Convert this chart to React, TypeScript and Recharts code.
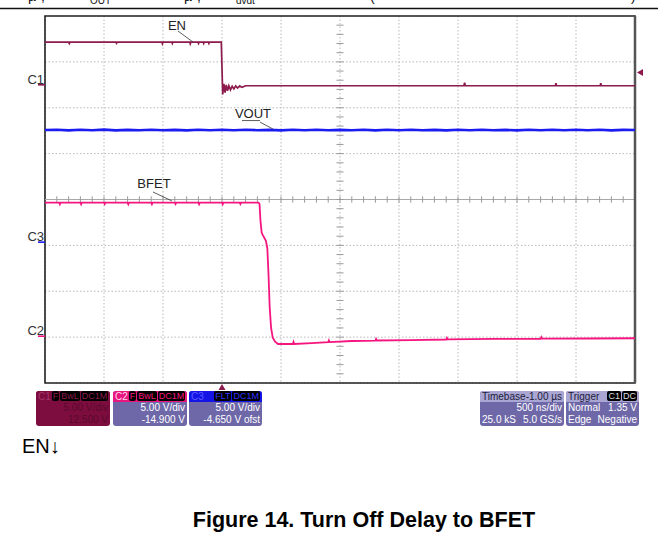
import React from "react";
import { CartesianGrid, Line, LineChart, ReferenceArea, ReferenceLine, XAxis, YAxis } from "recharts";

// time axis in ns: 500 ns/div, 10 divisions, trigger 3 divisions from the left
const timeTicks = [-1500, -1000, -500, 0, 500, 1000, 1500, 2000, 2500, 3000, 3500];
const divTicks = [-4, -3, -2, -1, 0, 1, 2, 3, 4];

// channel settings from the scope panels (V/div, position)
const c1Scale = { vdiv: 5, pos: 12.5 };
const c2Scale = { vdiv: 5, pos: -14.9 };
const c3Scale = { vdiv: 5, pos: -4.65 };
const trigLevel = 1.35;

// C1 EN (V)
const enTrace = [
  { t: -1500, v: 4.66 }, { t: -1300, v: 4.66 }, { t: -1294, v: 4.5 }, { t: -1288, v: 4.66 },
  { t: -900, v: 4.66 }, { t: -894, v: 4.52 }, { t: -888, v: 4.66 }, { t: -510, v: 4.66 },
  { t: -505, v: 4.48 }, { t: -500, v: 4.66 }, { t: -426, v: 4.66 }, { t: -421, v: 4.5 },
  { t: -416, v: 4.66 }, { t: -274, v: 4.66 }, { t: -269, v: 4.46 }, { t: -263, v: 4.66 },
  { t: -204, v: 4.66 }, { t: -199, v: 4.5 }, { t: -194, v: 4.66 }, { t: -160, v: 4.66 },
  { t: -155, v: 4.5 }, { t: -150, v: 4.66 }, { t: -116, v: 4.66 }, { t: -111, v: 4.5 },
  { t: -106, v: 4.66 }, { t: -6, v: 4.66 }, { t: 6, v: -1.05 }, { t: 16, v: 0.1 },
  { t: 26, v: -0.85 }, { t: 36, v: 0.0 }, { t: 47, v: -0.65 }, { t: 58, v: -0.1 },
  { t: 72, v: -0.55 }, { t: 86, v: -0.15 }, { t: 101, v: -0.45 }, { t: 116, v: -0.12 },
  { t: 132, v: -0.35 }, { t: 150, v: -0.12 }, { t: 170, v: -0.28 }, { t: 200, v: -0.1 },
  { t: 2050, v: -0.1 }, { t: 2056, v: 0.22 }, { t: 2062, v: -0.1 }, { t: 2825, v: -0.1 },
  { t: 2830, v: 0.18 }, { t: 2835, v: -0.1 }, { t: 3205, v: -0.1 }, { t: 3210, v: 0.18 },
  { t: 3215, v: -0.1 }, { t: 3500, v: -0.1 },
];

// C3 VOUT (V)
const voutTrace = [
  { t: -1500, v: 12.22 }, { t: -1400, v: 12.26 }, { t: -1300, v: 12.18 }, { t: -1200, v: 12.25 },
  { t: -1100, v: 12.2 }, { t: -1000, v: 12.27 }, { t: -900, v: 12.18 }, { t: -800, v: 12.24 },
  { t: -700, v: 12.2 }, { t: -600, v: 12.26 }, { t: -500, v: 12.19 }, { t: -400, v: 12.24 },
  { t: -300, v: 12.18 }, { t: -200, v: 12.25 }, { t: -100, v: 12.2 }, { t: 0, v: 12.25 },
  { t: 100, v: 12.19 }, { t: 200, v: 12.26 }, { t: 300, v: 12.2 }, { t: 400, v: 12.24 },
  { t: 500, v: 12.18 }, { t: 600, v: 12.25 }, { t: 700, v: 12.2 }, { t: 800, v: 12.26 },
  { t: 900, v: 12.19 }, { t: 1000, v: 12.24 }, { t: 1100, v: 12.2 }, { t: 1200, v: 12.26 },
  { t: 1300, v: 12.18 }, { t: 1400, v: 12.25 }, { t: 1500, v: 12.2 }, { t: 1600, v: 12.26 },
  { t: 1700, v: 12.19 }, { t: 1800, v: 12.24 }, { t: 1900, v: 12.18 }, { t: 2000, v: 12.25 },
  { t: 2100, v: 12.2 }, { t: 2200, v: 12.26 }, { t: 2300, v: 12.19 }, { t: 2400, v: 12.24 },
  { t: 2500, v: 12.18 }, { t: 2600, v: 12.25 }, { t: 2700, v: 12.2 }, { t: 2800, v: 12.26 },
  { t: 2900, v: 12.19 }, { t: 3000, v: 12.25 }, { t: 3100, v: 12.2 }, { t: 3200, v: 12.26 },
  { t: 3300, v: 12.18 }, { t: 3400, v: 12.24 }, { t: 3500, v: 12.22 },
];

// C2 BFET (V)
const bfetTrace = [
  { t: -1500, v: 14.55 }, { t: -1380, v: 14.55 }, { t: -1374, v: 14.38 }, { t: -1368, v: 14.55 },
  { t: -1200, v: 14.55 }, { t: -1194, v: 14.38 }, { t: -1188, v: 14.55 }, { t: -1000, v: 14.55 },
  { t: -994, v: 14.4 }, { t: -988, v: 14.55 }, { t: -800, v: 14.55 }, { t: -794, v: 14.38 },
  { t: -788, v: 14.55 }, { t: -600, v: 14.55 }, { t: -594, v: 14.38 }, { t: -588, v: 14.55 },
  { t: -400, v: 14.55 }, { t: -394, v: 14.4 }, { t: -388, v: 14.55 }, { t: -200, v: 14.55 },
  { t: -194, v: 14.38 }, { t: -188, v: 14.55 }, { t: 0, v: 14.55 }, { t: 6, v: 14.38 },
  { t: 12, v: 14.55 }, { t: 150, v: 14.55 }, { t: 156, v: 14.4 }, { t: 162, v: 14.55 },
  { t: 310, v: 14.55 }, { t: 318, v: 14.4 }, { t: 326, v: 12.6 }, { t: 336, v: 11.3 },
  { t: 345, v: 11.05 }, { t: 372, v: 10.4 }, { t: 384, v: 9.6 }, { t: 394, v: 6.8 },
  { t: 404, v: 3.2 }, { t: 416, v: 0.9 }, { t: 430, v: -0.15 }, { t: 450, v: -0.6 },
  { t: 475, v: -0.85 }, { t: 600, v: -0.85 }, { t: 606, v: -0.62 }, { t: 612, v: -0.85 },
  { t: 760, v: -0.75 }, { t: 900, v: -0.65 }, { t: 906, v: -0.45 }, { t: 912, v: -0.64 },
  { t: 1100, v: -0.52 }, { t: 1300, v: -0.48 }, { t: 1306, v: -0.3 }, { t: 1312, v: -0.47 },
  { t: 1600, v: -0.42 }, { t: 1900, v: -0.36 }, { t: 1906, v: -0.18 }, { t: 1912, v: -0.35 },
  { t: 2300, v: -0.3 }, { t: 2700, v: -0.28 }, { t: 2706, v: -0.1 }, { t: 2712, v: -0.27 },
  { t: 3100, v: -0.25 }, { t: 3500, v: -0.22 },
];

const EN_COLOR = "#8c1a4c";
const BFET_COLOR = "#f5157f";
const VOUT_COLOR = "#1c1cf0";
const PANEL = "#6e68a8";
const FONT = "'Liberation Sans', Arial, sans-serif";

const domainOf = (s: { vdiv: number; pos: number }) => [-s.pos - 4 * s.vdiv, -s.pos + 4 * s.vdiv];

// minor graticule ticks on the centre cross, 5 per division
const minorTimes = Array.from({ length: 49 }, (_, i) => -1400 + i * 100);
const minorDivs = Array.from({ length: 39 }, (_, i) => -3.8 + i * 0.2);

const chanMarker = (name: string, color: string) => (p: any) => (
  <g>
    <line x1={p.x1 - 7} y1={p.y1} x2={p.x1} y2={p.y1} stroke={color} strokeWidth={1.6} />
    <text x={p.x1 - 1} y={p.y1 - 1} textAnchor="end" fontSize={13} fill="#333" fontFamily={FONT}>{name}</text>
  </g>
);

const leader = (label: string, dx: number, dy: number, underline = false) => (p: any) => (
  <g>
    <line x1={p.x1} y1={p.y1} x2={p.x2} y2={p.y2} stroke="#333" strokeWidth={0.8} />
    {underline && <line x1={p.x1 - 18} y1={p.y1 - 1.5} x2={p.x1} y2={p.y1 - 1.5} stroke="#333" strokeWidth={0.8} />}
    <text x={p.x1 + dx} y={p.y1 + dy} textAnchor="middle" fontSize={13} fill="#222" fontFamily={FONT}>{label}</text>
  </g>
);

const trigLevelMark = (p: any) => {
  const x = Math.max(p.x1, p.x2) + 2;
  const y = p.y1;
  return <polygon points={`${x},${y} ${x + 6},${y - 3.5} ${x + 6},${y + 3.5}`} fill={EN_COLOR} />;
};

const trigPosMark = (p: any) => {
  const b = Math.max(p.y1, p.y2) + 1;
  const x = p.x1;
  return <polygon points={`${x},${b} ${x - 3.5},${b + 6} ${x + 3.5},${b + 6}`} fill={EN_COLOR} />;
};

const Badge = ({ text, color }: { text: string; color: string }) => (
  <span style={{ background: "#000", color, borderRadius: 2, padding: "0 1px", marginLeft: 1, lineHeight: "10px" }}>{text}</span>
);

interface BoxProps {
  left: number;
  width: number;
  head: React.ReactNode;
  headBg: string;
  bodyBg: string;
  bodyColor: string;
  rows: [string, string][];
}

function InfoBox({ left, width, head, headBg, bodyBg, bodyColor, rows }: BoxProps) {
  return (
    <div style={{ position: "absolute", left, top: 391, width, height: 35, borderRadius: 3, overflow: "hidden", background: bodyBg, fontFamily: FONT, fontSize: 10 }}>
      <div style={{ height: 11, lineHeight: "11px", background: headBg, display: "flex", justifyContent: "space-between", alignItems: "center", padding: "0 2px" }}>{head}</div>
      {rows.map(([a, b], i) => (
        <div key={i} style={{ height: 12, lineHeight: "12px", color: bodyColor, display: "flex", justifyContent: "space-between", padding: "0 2px", whiteSpace: "nowrap" }}>
          <span>{a}</span>
          <span>{b}</span>
        </div>
      ))}
    </div>
  );
}

export default function App() {
  return (
    <div style={{ position: "absolute", left: 0, top: 0, width: 658, height: 539, background: "#fff", overflow: "hidden" }}>
      {/* cut-off line of the page above the plot */}
      <svg width={658} height={12} style={{ position: "absolute", left: 0, top: 0 }}>
        <g fontFamily={FONT} fill="#111">
          <text x={28} y={0.5} fontSize={14}>µ</text>
          <text x={41} y={0.5} fontSize={14}>,</text>
          <text x={90} y={4} fontSize={10}>OUT</text>
          <text x={184} y={0.5} fontSize={14}>µ</text>
          <text x={197} y={0.5} fontSize={14}>,</text>
          <text x={236} y={4} fontSize={10}>dvdt</text>
          <text x={370} y={0.5} fontSize={14}>(</text>
          <text x={631} y={0.5} fontSize={14}>)</text>
        </g>
        <line x1={0} y1={8.5} x2={658} y2={8.5} stroke="#111" strokeWidth={1.6} />
      </svg>

      <div style={{ position: "absolute", left: 0, top: 0 }}>
        <LineChart width={658} height={539} margin={{ top: 16, right: 23, bottom: 156, left: 45 }}>
          <XAxis type="number" dataKey="t" domain={[-1500, 3500]} ticks={timeTicks} allowDataOverflow hide />
          <YAxis yAxisId="div" type="number" domain={[-4, 4]} ticks={divTicks} allowDataOverflow hide />
          <YAxis yAxisId="c1" type="number" domain={domainOf(c1Scale)} allowDataOverflow hide />
          <YAxis yAxisId="c2" type="number" domain={domainOf(c2Scale)} allowDataOverflow hide />
          <YAxis yAxisId="c3" type="number" domain={domainOf(c3Scale)} allowDataOverflow hide />
          <CartesianGrid yAxisId="div" stroke="#b8b8b8" strokeDasharray="1.5 2" />
          <ReferenceLine x={1000} stroke="#a8a8a8" strokeWidth={1} />
          <ReferenceLine yAxisId="div" y={0} stroke="#a8a8a8" strokeWidth={1} />
          {minorTimes.map((t) => (
            <ReferenceLine key={`mt${t}`} yAxisId="div" segment={[{ x: t, y: -0.07 }, { x: t, y: 0.07 }]} stroke="#9a9a9a" strokeWidth={1} />
          ))}
          {minorDivs.map((d) => (
            <ReferenceLine key={`md${d}`} yAxisId="div" segment={[{ x: 970, y: d }, { x: 1030, y: d }]} stroke="#9a9a9a" strokeWidth={1} />
          ))}
          <ReferenceArea yAxisId="div" x1={-1500} x2={3500} y1={-4} y2={4} fill="none" stroke="#222" strokeWidth={1.6} fillOpacity={0} />
          <ReferenceLine yAxisId="div" segment={[{ x: 3500, y: -4 }, { x: 3500, y: 4 }]} stroke="#555" strokeWidth={2.5} />

          <Line yAxisId="c3" data={voutTrace} dataKey="v" type="linear" stroke={VOUT_COLOR} strokeWidth={2.6} dot={false} isAnimationActive={false} />
          <Line yAxisId="c1" data={enTrace} dataKey="v" type="linear" stroke={EN_COLOR} strokeWidth={1.7} dot={false} isAnimationActive={false} />
          <Line yAxisId="c2" data={bfetTrace} dataKey="v" type="linear" stroke={BFET_COLOR} strokeWidth={1.8} dot={false} isAnimationActive={false} />

          <ReferenceLine yAxisId="c1" y={0} stroke="none" shape={chanMarker("C1", EN_COLOR)} />
          <ReferenceLine yAxisId="c3" y={0} stroke="none" shape={chanMarker("C3", VOUT_COLOR)} />
          <ReferenceLine yAxisId="c2" y={0} stroke="none" shape={chanMarker("C2", BFET_COLOR)} />
          <ReferenceLine yAxisId="c1" y={trigLevel} stroke="none" shape={trigLevelMark} />
          <ReferenceLine yAxisId="div" x={0} stroke="none" shape={trigPosMark} />

          <ReferenceLine yAxisId="c1" segment={[{ x: -373, y: 5.86 }, { x: -246, y: 4.66 }]} shape={leader("EN", -1, -1)} />
          <ReferenceLine yAxisId="c3" segment={[{ x: 322, y: 13.09 }, { x: 432, y: 12.33 }]} shape={leader("VOUT", -7, -4, true)} />
          <ReferenceLine yAxisId="c2" segment={[{ x: -585, y: 15.72 }, { x: -424, y: 14.74 }]} shape={leader("BFET", 1, -4)} />
        </LineChart>
      </div>

      <InfoBox
        left={36}
        width={74}
        headBg="#7d0d3e"
        bodyBg="#7d0d3e"
        bodyColor="#5a0a2c"
        head={<>
          <span style={{ color: "#a8366a" }}>C1</span>
          <span style={{ fontSize: 9 }}><Badge text="F" color="#8c1a4c" /><Badge text="BwL" color="#8c1a4c" /><Badge text="DC1M" color="#8c1a4c" /></span>
        </>}
        rows={[["", "5.00 V/div"], ["", "12.500 V"]]}
      />
      <InfoBox
        left={113}
        width={74}
        headBg="#e8177f"
        bodyBg={PANEL}
        bodyColor="#fff"
        head={<>
          <span style={{ color: "#ffd6ea" }}>C2</span>
          <span style={{ fontSize: 9 }}><Badge text="F" color="#f5157f" /><Badge text="BwL" color="#f5157f" /><Badge text="DC1M" color="#f5157f" /></span>
        </>}
        rows={[["", "5.00 V/div"], ["", "-14.900 V"]]}
      />
      <InfoBox
        left={189}
        width={73}
        headBg="#1414e6"
        bodyBg={PANEL}
        bodyColor="#fff"
        head={<>
          <span style={{ color: "#5a5aff" }}>C3</span>
          <span style={{ fontSize: 9 }}><Badge text="FLT" color="#3030ff" /><Badge text="DC1M" color="#3030ff" /></span>
        </>}
        rows={[["", "5.00 V/div"], ["", "-4.650 V ofst"]]}
      />
      <InfoBox
        left={480}
        width={84}
        headBg="#aaa6d4"
        bodyBg={PANEL}
        bodyColor="#fff"
        head={<>
          <span style={{ color: "#1c1c3a" }}>Timebase</span>
          <span style={{ color: "#1c1c3a" }}>-1.00 µs</span>
        </>}
        rows={[["", "500 ns/div"], ["25.0 kS", "5.0 GS/s"]]}
      />
      <InfoBox
        left={566}
        width={73}
        headBg="#aaa6d4"
        bodyBg={PANEL}
        bodyColor="#fff"
        head={<>
          <span style={{ color: "#1c1c3a" }}>Trigger</span>
          <span style={{ fontSize: 9 }}><Badge text="C1" color="#ddd" /><Badge text="DC" color="#ddd" /></span>
        </>}
        rows={[["Normal", "1.35 V"], ["Edge", "Negative"]]}
      />

      <div style={{ position: "absolute", left: 22, top: 434, fontFamily: FONT, fontSize: 20, color: "#000", lineHeight: "24px" }}>EN↓</div>
      <div style={{ position: "absolute", left: 0, width: 728, top: 507, textAlign: "center", fontFamily: FONT, fontSize: 21.5, fontWeight: "bold", color: "#000", lineHeight: "26px" }}>
        Figure 14. Turn Off Delay to BFET
      </div>
    </div>
  );
}
